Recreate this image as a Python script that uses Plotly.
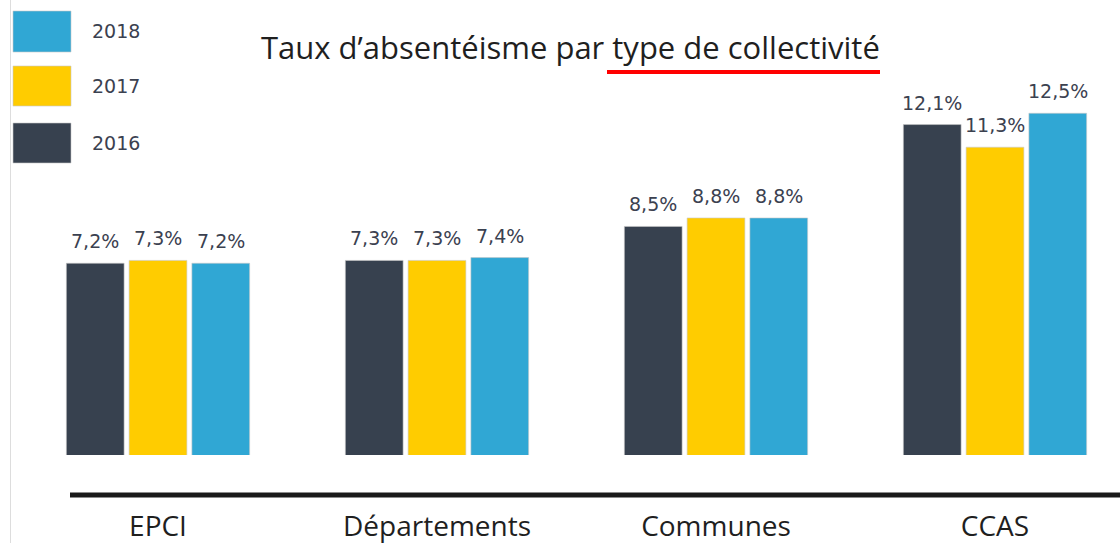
import plotly.graph_objects as go

categories = ["EPCI", "Départements", "Communes", "CCAS"]
years = ["2016", "2017", "2018"]
v2016 = [7.2, 7.3, 8.5, 12.1]
v2017 = [7.3, 7.3, 8.8, 11.3]
v2018 = [7.2, 7.4, 8.8, 12.5]
colors = {"2016": "#37414f", "2017": "#ffcc00", "2018": "#30a7d4"}
title_text = "Taux d’absentéisme par type de collectivité"

series = {"2016": v2016, "2017": v2017, "2018": v2018}

W, H = 1120, 543
plot_bottom = 455
bargap = 0.325
bargroupgap = 0.08

fig = go.Figure()
xs = list(range(len(categories)))
for y in years:
    fig.add_trace(go.Bar(
        x=xs, y=series[y], name=y,
        marker=dict(color=colors[y], line=dict(color="rgba(200,200,200,0.6)", width=1)),
        showlegend=False,
    ))

# value labels
slot = (1 - bargap) / len(years)
for k, y in enumerate(years):
    for i, v in enumerate(series[y]):
        fig.add_annotation(
            x=i + (k - 1) * slot, y=v, xref="x", yref="y",
            text=f"{v:.1f}%".replace(".", ","),
            showarrow=False, yanchor="bottom", yshift=9,
            font=dict(family="DejaVu Sans", size=19, color="#3b4150"),
        )

# legend boxes (custom)
legend_rows = [("2018", 11, 52), ("2017", 66, 106), ("2016", 123, 163)]
for name, y0, y1 in legend_rows:
    fig.add_shape(type="rect", xref="paper", yref="paper",
                  x0=13 / W, x1=71 / W,
                  y0=(plot_bottom - y1) / plot_bottom, y1=(plot_bottom - y0) / plot_bottom,
                  fillcolor=colors[name], line=dict(color="rgba(200,200,200,0.6)", width=1))
    fig.add_annotation(xref="paper", yref="paper", x=90 / W,
                       y=(plot_bottom - (y0 + y1) / 2) / plot_bottom,
                       text=name, showarrow=False, xanchor="left", yanchor="middle",
                       font=dict(family="DejaVu Sans", size=19, color="#3b4150"))

# title
fig.add_annotation(xref="paper", yref="paper", x=570 / W, y=(plot_bottom - 47) / plot_bottom,
                   text=title_text, showarrow=False, xanchor="center", yanchor="middle",
                   font=dict(family="Open Sans", size=31, color="#1f1f1f"))
# red underline
fig.add_shape(type="line", xref="paper", yref="paper",
              x0=607 / W, x1=880 / W,
              y0=(plot_bottom - 72) / plot_bottom, y1=(plot_bottom - 72) / plot_bottom,
              line=dict(color="#ff0000", width=4))
# baseline black line
fig.add_shape(type="line", xref="paper", yref="paper",
              x0=70 / W, x1=1.0,
              y0=(plot_bottom - 495) / plot_bottom, y1=(plot_bottom - 495) / plot_bottom,
              line=dict(color="#1a1a1a", width=5))
# faint left vertical line
fig.add_shape(type="line", xref="paper", yref="paper",
              x0=10.5 / W, x1=10.5 / W, y0=(plot_bottom - H) / plot_bottom, y1=1,
              line=dict(color="#dddddd", width=1))

px_per_cat = 279
x_lo = -158 / px_per_cat
x_hi = (W - 158) / px_per_cat
px_per_unit = 28.3
zero_px = 467
y_lo = (zero_px - plot_bottom) / px_per_unit
y_hi = zero_px / px_per_unit

fig.update_layout(
    width=W, height=H,
    margin=dict(l=0, r=0, t=0, b=H - plot_bottom),
    paper_bgcolor="white", plot_bgcolor="white",
    barmode="group", bargap=bargap, bargroupgap=bargroupgap,
    separators=", ",
    xaxis=dict(range=[x_lo, x_hi], tickmode="array", tickvals=xs, ticktext=categories,
               showgrid=False, zeroline=False, showline=False, ticks="",
               tickfont=dict(family="Open Sans", size=28, color="#1f1f1f"),
               ticklabelstandoff=52, automargin=False),
    yaxis=dict(range=[y_lo, y_hi], visible=False, showgrid=False, zeroline=False,
               automargin=False),
)

fig.write_html("out.html", config={"displayModeBar": False},
               post_script="document.body.style.margin='0';document.body.style.overflow='hidden';")
